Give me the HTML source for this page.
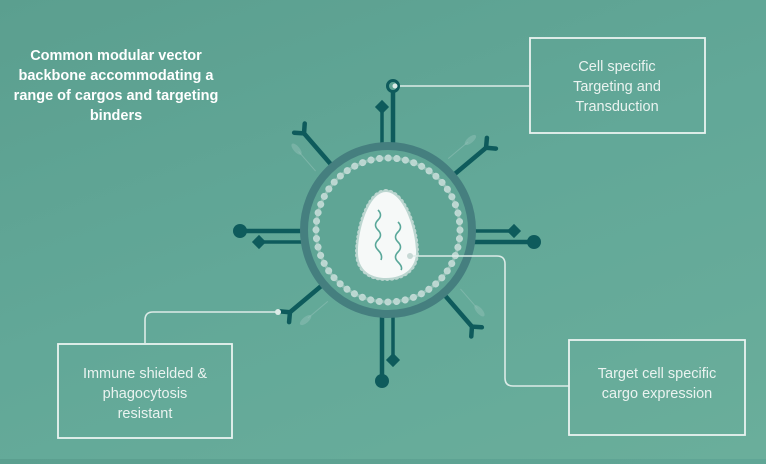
<!DOCTYPE html>
<html><head><style>
html,body{margin:0;padding:0;}
body{width:766px;height:459px;overflow:hidden;background:linear-gradient(160deg,#5b9f8f 0%,#62a898 50%,#6aae9b 100%);font-family:"Liberation Sans",sans-serif;}
</style></head><body>
<svg width="766" height="459" viewBox="0 0 766 459" xmlns="http://www.w3.org/2000/svg">
<defs>
<g id="yspike">
  <line x1="0" y1="-86" x2="0" y2="-128" stroke="#0e5b5c" stroke-width="4.5" stroke-linecap="round"/>
  <line x1="0" y1="-128" x2="-7" y2="-135" stroke="#0e5b5c" stroke-width="4.5" stroke-linecap="round"/>
  <line x1="0" y1="-128" x2="7" y2="-135" stroke="#0e5b5c" stroke-width="4.5" stroke-linecap="round"/>
  <line x1="-16" y1="-92" x2="-16" y2="-118" stroke="#8fbfb5" stroke-width="1" opacity="0.6"/>
  <ellipse cx="-16" cy="-121" rx="3" ry="7" fill="#8fbfb5" opacity="0.5"/>
</g>
</defs>
<!-- connectors -->
<g fill="none" stroke="#dcebe7" stroke-width="1.6">
  <path d="M397 86 H530"/>
  <path d="M278 312 H153 Q145 312 145 320 V343"/>
</g>
<!-- spikes straight -->
<g stroke="#0e5b5c" stroke-width="4.5" fill="#0e5b5c">
  <line x1="393" y1="92" x2="393" y2="145"/>
  <line x1="382" y1="107" x2="382" y2="145" stroke-width="3.5"/>
  <rect x="377" y="102" width="10" height="10" transform="rotate(45 382 107)" stroke="none"/>
  <line x1="382" y1="315" x2="382" y2="380"/>
  <circle cx="382" cy="381" r="7" stroke="none"/>
  <line x1="393" y1="315" x2="393" y2="360" stroke-width="3.5"/>
  <rect x="388" y="355" width="10" height="10" transform="rotate(45 393 360)" stroke="none"/>
  <line x1="240" y1="231" x2="303" y2="231"/>
  <circle cx="240" cy="231" r="7" stroke="none"/>
  <line x1="259" y1="242" x2="303" y2="242" stroke-width="3.5"/>
  <rect x="254" y="237" width="10" height="10" transform="rotate(45 259 242)" stroke="none"/>
  <line x1="473" y1="242" x2="534" y2="242"/>
  <circle cx="534" cy="242" r="7" stroke="none"/>
  <line x1="473" y1="231" x2="514" y2="231" stroke-width="3.5"/>
  <rect x="509" y="226" width="10" height="10" transform="rotate(45 514 231)" stroke="none"/>
</g>
<circle cx="393" cy="86" r="5.5" fill="none" stroke="#0e5b5c" stroke-width="3"/>
<circle cx="395" cy="86" r="2.5" fill="#dcebe7"/>
<g transform="translate(388,230)">
  <use href="#yspike" transform="rotate(-41)"/>
  <use href="#yspike" transform="rotate(50)"/>
  <use href="#yspike" transform="rotate(139)"/>
  <use href="#yspike" transform="rotate(230)"/>
</g>
<!-- virus body -->
<circle cx="388" cy="230" r="84" fill="#5fa595" stroke="#457f7f" stroke-width="8"/>
<circle cx="388" cy="230" r="72" fill="none" stroke="#c9dfda" stroke-width="7" stroke-dasharray="0.1 8.6" stroke-linecap="round" opacity="0.9"/>
<circle cx="388" cy="230" r="72" fill="none" stroke="#b5d3cc" stroke-width="3" opacity="0.5"/>
<path d="M386 192 C402 192 415 225 416 250 C417 268 404 278 386 278 C368 278 357 268 358 250 C359 225 370 192 386 192 Z" fill="none" stroke="#bcd6d0" stroke-width="6" stroke-dasharray="0.1 4.5" stroke-linecap="round"/>
<path d="M386 192 C402 192 415 225 416 250 C417 268 404 278 386 278 C368 278 357 268 358 250 C359 225 370 192 386 192 Z" fill="#f6f9f8"/>
<g fill="none" stroke="#5aa89a" stroke-width="1.6">
  <path d="M378 210 q5 5 0 10 q-5 5 0 10 q5 5 0 10 q-5 5 0 10 q5 5 3 10"/>
  <path d="M398 222 q5 5 0 10 q-5 5 0 10 q5 5 0 10 q-5 5 0 10 q5 5 3 8"/>
</g>
<path d="M410 256 H497 Q505 256 505 264 V378 Q505 386 513 386 H569" fill="none" stroke="#dcebe7" stroke-width="1.6"/>
<circle cx="410" cy="256" r="3" fill="#c7d9d5"/>
<circle cx="278" cy="312" r="3" fill="#dcebe7"/>
<!-- boxes -->
<g fill="none" stroke="#eaf3f0" stroke-width="1.8">
  <rect x="530" y="38" width="175" height="95"/>
  <rect x="58" y="344" width="174" height="94"/>
  <rect x="569" y="340" width="176" height="95"/>
</g>
<g fill="#eaf3f0" font-family="Liberation Sans, sans-serif" font-size="14.5" text-anchor="middle">
  <text x="617" y="71">Cell specific</text>
  <text x="617" y="91">Targeting and</text>
  <text x="617" y="111">Transduction</text>
  <text x="145" y="378">Immune shielded &amp;</text>
  <text x="145" y="398">phagocytosis</text>
  <text x="145" y="418">resistant</text>
  <text x="657" y="378">Target cell specific</text>
  <text x="657" y="398">cargo expression</text>
</g>
<g fill="#ffffff" font-family="Liberation Sans, sans-serif" font-size="14.5" font-weight="bold" text-anchor="middle">
  <text x="116" y="60">Common modular vector</text>
  <text x="116" y="80">backbone accommodating a</text>
  <text x="116" y="100">range of cargos and targeting</text>
  <text x="116" y="120">binders</text>
</g>
</svg>
</body></html>
